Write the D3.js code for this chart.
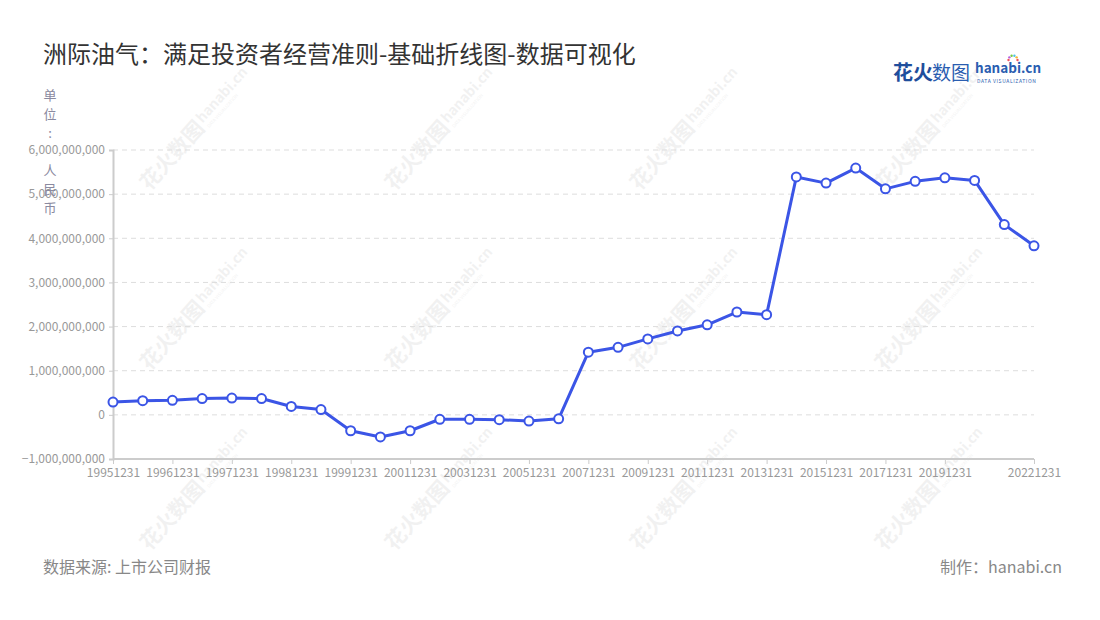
<!DOCTYPE html>
<html>
<head>
<meta charset="utf-8">
<script src="https://cdn.jsdelivr.net/npm/d3@7/dist/d3.min.js"></script>
<style>
  body { margin: 0; background: #fff; }
  svg text { font-family: "Noto Sans CJK SC", "Noto Sans", sans-serif; }
</style>
</head>
<body>
<div id="chart"></div>
<script>
// categories (report dates)
const dates = [
  "19951231", "19960630", "19961231", "19970630", "19971231", "19980630", "19981231", "19990630",
  "19991231", "20001231", "20011231", "20021231", "20031231", "20041231", "20051231", "20061231",
  "20071231", "20081231", "20091231", "20101231", "20111231", "20121231", "20131231", "20141231",
  "20151231", "20161231", "20171231", "20181231", "20191231", "20201231", "20211231", "20221231"
];
// values in RMB
const values = [
  290e6, 320e6, 330e6, 370e6, 380e6, 370e6, 190e6, 120e6,
  -360e6, -500e6, -360e6, -100e6, -100e6, -110e6, -140e6, -90e6,
  1420e6, 1530e6, 1720e6, 1900e6, 2040e6, 2330e6, 2270e6, 5390e6,
  5250e6, 5590e6, 5120e6, 5290e6, 5370e6, 5310e6, 4310e6, 3830e6
];
const yTicks = [-1e9, 0, 1e9, 2e9, 3e9, 4e9, 5e9, 6e9];
const xLabelIdx = [0, 2, 4, 6, 8, 10, 12, 14, 16, 18, 20, 22, 24, 26, 28, 31];
const unitChars = ["单", "位", "：", "人", "民", "币"];

const W = 1100, H = 620;
const plotL = 113, plotR = 1034, plotT = 150, plotB = 459;
const blue = "#3b55e6";

const svg = d3.select("#chart").append("svg")
  .attr("width", W).attr("height", H);

// watermarks
const wmX = [185, 430, 675, 920], wmY = [140, 320, 500];
wmY.forEach(wy => wmX.forEach(wx => {
  const g = svg.append("g")
    .attr("transform", `translate(${wx},${wy}) rotate(-48)`)
    .attr("fill", "#000").attr("opacity", 0.05);
  g.append("text").attr("x", -62).attr("y", 8)
    .style("font-size", "21px").style("font-weight", "bold").text("花火数图");
  g.append("text").attr("x", 24).attr("y", 2)
    .style("font-size", "14px").style("font-weight", "bold").text("hanabi.cn");
  g.append("text").attr("x", 25).attr("y", 10)
    .style("font-size", "4.5px").text("DATA VISUALIZATION");
}));

// scales
const x = d3.scalePoint().domain(d3.range(dates.length)).range([plotL, plotR]);
const y = d3.scaleLinear().domain([-1e9, 6e9]).range([plotB, plotT]);

// grid
svg.append("g").selectAll("line")
  .data(yTicks.filter(t => t !== -1e9))
  .enter().append("line")
  .attr("x1", plotL).attr("x2", plotR)
  .attr("y1", d => y(d)).attr("y2", d => y(d))
  .attr("stroke", "#ddd").attr("stroke-dasharray", "5,4");

// y axis
const yAxis = svg.append("g")
  .attr("transform", `translate(${plotL},0)`)
  .call(d3.axisLeft(y).tickValues(yTicks).tickSize(4).tickPadding(4)
    .tickFormat(d3.format(",")));
yAxis.select(".domain").attr("stroke", "#ccc").attr("stroke-width", 2);
yAxis.selectAll(".tick line").attr("stroke", "#ccc");
yAxis.selectAll("text").attr("fill", "#999").style("font-size", "12px");

// x axis
const xAxis = svg.append("g")
  .attr("transform", `translate(0,${plotB})`)
  .call(d3.axisBottom(x).tickValues(xLabelIdx).tickSize(5).tickPadding(4)
    .tickFormat(i => dates[i]));
xAxis.select(".domain").attr("stroke", "#ccc").attr("stroke-width", 2)
  .attr("d", `M${plotL},0H${plotR}`);
xAxis.selectAll(".tick line").attr("stroke", "#ccc");
xAxis.selectAll("text").attr("fill", "#999").style("font-size", "12px");

// unit label (vertical)
const unitY = [95, 114, 133, 170, 189, 208];
svg.append("g").selectAll("text")
  .data(unitChars).enter().append("text")
  .attr("x", 50).attr("y", (d, i) => unitY[i] + 5)
  .attr("text-anchor", "middle")
  .attr("fill", "#8a8aa0").style("font-size", "13px")
  .text(d => d === "：" ? ":" : d);

// line
svg.append("path")
  .datum(values)
  .attr("fill", "none").attr("stroke", blue).attr("stroke-width", 3)
  .attr("stroke-linejoin", "round")
  .attr("d", d3.line().x((d, i) => x(i)).y(d => y(d)));

svg.append("g").selectAll("circle")
  .data(values).enter().append("circle")
  .attr("cx", (d, i) => x(i)).attr("cy", d => y(d)).attr("r", 4.5)
  .attr("fill", "#fff").attr("stroke", blue).attr("stroke-width", 2);

// title
svg.append("text").attr("x", 43).attr("y", 63)
  .attr("fill", "#333").style("font-size", "24px")
  .text("洲际油气：满足投资者经营准则-基础折线图-数据可视化");

// logo
const logo = svg.append("g").attr("transform", "translate(893,80)");
logo.append("text").attr("x", 0).attr("y", 0)
  .attr("fill", "#1f4e9c").style("font-size", "20px").style("font-weight", "bold").text("花火");
logo.append("text").attr("x", 39).attr("y", 0)
  .attr("fill", "#2a5db0").style("font-size", "19px").text("数图");
logo.append("text").attr("x", 82).attr("y", -7)
  .attr("fill", "#2a5db0").style("font-size", "13.5px").style("font-weight", "bold").text("hanabi.cn");
logo.append("text").attr("x", 84).attr("y", 2.5)
  .attr("fill", "#2a5db0").style("font-size", "5px").style("letter-spacing", "0.6px")
  .text("DATA VISUALIZATION");
const dotColors = ["#f2505a", "#f7b733", "#4cc3e8", "#7ac943", "#b660e0", "#f2505a"];
dotColors.forEach((c, i) => {
  const a = -Math.PI * (i / 5);
  logo.append("circle").attr("cx", 120 + 4.5 * Math.cos(a)).attr("cy", -20 + 4.5 * Math.sin(a))
    .attr("r", 1.2).attr("fill", c);
});

// footer
svg.append("text").attr("x", 43).attr("y", 573)
  .attr("fill", "#888").style("font-size", "16px").text("数据来源: 上市公司财报");
svg.append("text").attr("x", 1062).attr("y", 573).attr("text-anchor", "end")
  .attr("fill", "#888").style("font-size", "16px").text("制作：hanabi.cn");
</script>
</body>
</html>
